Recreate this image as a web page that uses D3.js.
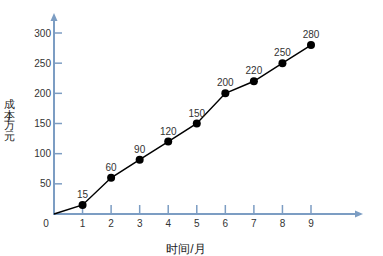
<!DOCTYPE html>
<html>
<head>
<meta charset="utf-8">
<script src="https://cdn.jsdelivr.net/npm/d3@7"></script>
<style>
  body { margin: 0; background: #fff; }
  text { font-family: "Liberation Sans", "DejaVu Sans", sans-serif; }
</style>
</head>
<body>
<div id="chart"></div>
<script>
// données
const months = [1, 2, 3, 4, 5, 6, 7, 8, 9];
const costs = [15, 60, 90, 120, 150, 200, 220, 250, 280];
const xTicks = [0, 1, 2, 3, 4, 5, 6, 7, 8, 9];
const yTicks = [50, 100, 150, 200, 250, 300];
const xTitle = "时间/月";
const yTitleChars = ["成", "本", "万", "元"];

const W = 383, H = 256;
const axisColor = "#7c9dc3";

const svg = d3.select("#chart").append("svg")
    .attr("width", W).attr("height", H);

const x = d3.scaleLinear().domain([0, 9]).range([54, 311]);
const y = d3.scaleLinear().domain([0, 300]).range([214, 33]);

// axe X
svg.append("line")
    .attr("x1", x(0)).attr("x2", 356)
    .attr("y1", y(0)).attr("y2", y(0))
    .attr("stroke", axisColor).attr("stroke-width", 2);
svg.append("path")
    .attr("d", `M363,${y(0)} L355,${y(0) - 3.5} L355,${y(0) + 3.5} Z`)
    .attr("fill", axisColor);

svg.selectAll(".xtick").data(xTicks.filter(d => d > 0)).join("line")
    .attr("class", "xtick")
    .attr("x1", d => x(d)).attr("x2", d => x(d))
    .attr("y1", y(0)).attr("y2", y(0) - 9)
    .attr("stroke", axisColor).attr("stroke-width", 1.5);

svg.selectAll(".xlab").data(xTicks).join("text")
    .attr("class", "xlab")
    .attr("x", d => d === 0 ? x(d) - 8 : x(d))
    .attr("y", 227)
    .attr("text-anchor", "middle")
    .attr("font-size", 10)
    .attr("fill", "#333")
    .text(d => d);

// axe Y
svg.append("line")
    .attr("x1", x(0)).attr("x2", x(0))
    .attr("y1", y(0) + 1).attr("y2", 20)
    .attr("stroke", axisColor).attr("stroke-width", 2);
svg.append("path")
    .attr("d", `M${x(0)},13 L${x(0) - 3.5},21 L${x(0) + 3.5},21 Z`)
    .attr("fill", axisColor);

svg.selectAll(".ytick").data(yTicks).join("line")
    .attr("class", "ytick")
    .attr("x1", x(0)).attr("x2", x(0) + 8)
    .attr("y1", d => y(d)).attr("y2", d => y(d))
    .attr("stroke", axisColor).attr("stroke-width", 1.5);

svg.selectAll(".ylab").data(yTicks).join("text")
    .attr("class", "ylab")
    .attr("x", 51)
    .attr("y", d => y(d) + 3.5)
    .attr("text-anchor", "end")
    .attr("font-size", 10)
    .attr("fill", "#333")
    .text(d => d);

// titres
svg.append("text")
    .attr("x", 186).attr("y", 253)
    .attr("text-anchor", "middle")
    .attr("font-size", 12)
    .attr("fill", "#222")
    .text(xTitle);

const yt = svg.append("g").attr("transform", "translate(9,0)");
yt.selectAll("text").data(yTitleChars).join("text")
    .attr("x", 0)
    .attr("y", (d, i) => 108 + i * 10.5)
    .attr("text-anchor", "middle")
    .attr("font-size", 11)
    .attr("fill", "#222")
    .text(d => d);
yt.append("text")
    .attr("x", 0).attr("y", 122)
    .attr("text-anchor", "middle")
    .attr("font-size", 10)
    .attr("fill", "#222")
    .text("/");

// courbe
const pts = [[0, 0], ...months.map((m, i) => [m, costs[i]])];
svg.append("path")
    .attr("d", d3.line().x(d => x(d[0])).y(d => y(d[1]))(pts))
    .attr("fill", "none")
    .attr("stroke", "#000")
    .attr("stroke-width", 1.5);

svg.selectAll(".dot").data(months).join("circle")
    .attr("class", "dot")
    .attr("cx", d => x(d))
    .attr("cy", (d, i) => y(costs[i]))
    .attr("r", 4)
    .attr("fill", "#000");

svg.selectAll(".val").data(months).join("text")
    .attr("class", "val")
    .attr("x", d => x(d))
    .attr("y", (d, i) => y(costs[i]) - 7)
    .attr("text-anchor", "middle")
    .attr("font-size", 10)
    .attr("fill", "#333")
    .text((d, i) => costs[i]);
</script>
</body>
</html>
